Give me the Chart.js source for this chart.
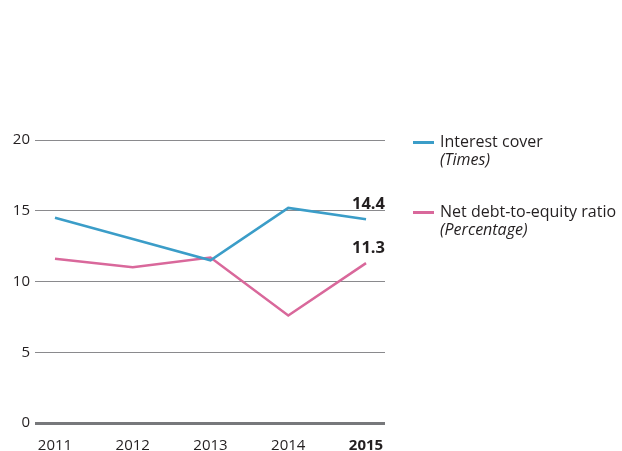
<!DOCTYPE html>
<html>
<head>
<meta charset="utf-8">
<script src="https://cdn.jsdelivr.net/npm/chart.js@4"></script>
<style>
  html, body { margin: 0; padding: 0; background: #fff; }
  #wrap { position: relative; width: 622px; height: 451px; font-family: "Open Sans", sans-serif; }
  #myChart { position: absolute; left: 0; top: 0; }
  .leg { position: absolute; left: 413px; font-size: 16px; color: #231f20; line-height: 18px; }
  .leg .sw { position: absolute; left: 0; top: 9px; width: 21px; height: 3px; }
  .leg .txt { margin-left: 27px; white-space: nowrap; }
  .leg i { display: block; }
</style>
</head>
<body>
<div id="wrap">
  <canvas id="myChart" width="622" height="451"></canvas>
</div>
<script>
var years = [2011, 2012, 2013, 2014, 2015];
var interestCover = [14.5, 13.0, 11.5, 15.2, 14.4];
var netDebtEquity = [11.6, 11.0, 11.7, 7.6, 11.3];
var seriesNames = ["Interest cover", "Net debt-to-equity ratio"];
var seriesUnits = ["(Times)", "(Percentage)"];
var seriesColors = ["#3b9dc8", "#d9689b"];
var yTicks = [0, 5, 10, 15, 20];

function points(vals) {
    var out = [];
    for (var i = 0; i < years.length; i++) {
        out.push({x: years[i], y: vals[i]});
    }
    return out;
}

// last value labels, bold, above the 2015 points
var lastLabels = {
    id: 'lastLabels',
    afterDatasetsDraw: function(chart) {
        var c = chart.ctx;
        c.save();
        c.font = 'bold 16.5px "Open Sans", sans-serif';
        c.fillStyle = '#231f20';
        c.textAlign = 'right';
        c.textBaseline = 'middle';
        chart.data.datasets.forEach(function(ds, i) {
            var meta = chart.getDatasetMeta(i);
            var pt = meta.data[meta.data.length - 1];
            var v = ds.data[ds.data.length - 1].y;
            c.fillText(v.toFixed(1), chart.chartArea.right, pt.y - 15);
        });
        c.restore();
    }
};

var ctx = document.getElementById("myChart");
var myChart = new Chart(ctx, {
    type: 'line',
    data: {
        datasets: [{
            label: seriesNames[0],
            data: points(interestCover),
            borderColor: seriesColors[0],
            borderWidth: 2.5,
            pointRadius: 0,
            tension: 0
        }, {
            label: seriesNames[1],
            data: points(netDebtEquity),
            borderColor: seriesColors[1],
            borderWidth: 2.5,
            pointRadius: 0,
            tension: 0
        }]
    },
    options: {
        responsive: false,
        animation: false,
        layout: { padding: { left: 0, right: 237, top: 140, bottom: 0 } },
        plugins: { legend: { display: false }, tooltip: { enabled: false } },
        scales: {
            x: {
                type: 'linear',
                min: 2010.743,
                max: 2015.244,
                afterFit: function(s) { s.height = 28; },
                afterBuildTicks: function(s) {
                    s.ticks = years.map(function(y) { return {value: y}; });
                },
                grid: { display: false },
                border: { display: false },
                ticks: {
                    padding: 6,
                    color: '#231f20',
                    callback: function(v) { return String(v); },
                    font: function(c) {
                        var last = c.tick && c.tick.value === years[years.length - 1];
                        return { family: '"Open Sans", sans-serif', size: 15, weight: last ? 'bold' : 'normal' };
                    }
                }
            },
            y: {
                min: 0,
                max: 20,
                afterFit: function(s) { s.width = 35; },
                afterBuildTicks: function(s) {
                    s.ticks = yTicks.map(function(v) { return {value: v}; });
                },
                border: { display: false },
                grid: {
                    drawTicks: false,
                    color: function(c) { return c.tick && c.tick.value === 0 ? '#77787b' : '#8a8a8d'; },
                    lineWidth: function(c) { return c.tick && c.tick.value === 0 ? 3 : 1; }
                },
                ticks: {
                    padding: 5,
                    color: '#231f20',
                    font: { family: '"Open Sans", sans-serif', size: 15 }
                }
            }
        }
    },
    plugins: [lastLabels]
});

// legend as html text
var wrap = document.getElementById('wrap');
var legTops = [132, 202];
for (var i = 0; i < seriesNames.length; i++) {
    var d = document.createElement('div');
    d.className = 'leg';
    d.style.top = legTops[i] + 'px';
    d.innerHTML = '<span class="sw" style="background:' + seriesColors[i] + '"></span>' +
        '<div class="txt">' + seriesNames[i] + '<i>' + seriesUnits[i] + '</i></div>';
    wrap.appendChild(d);
}
</script>
</body>
</html>
